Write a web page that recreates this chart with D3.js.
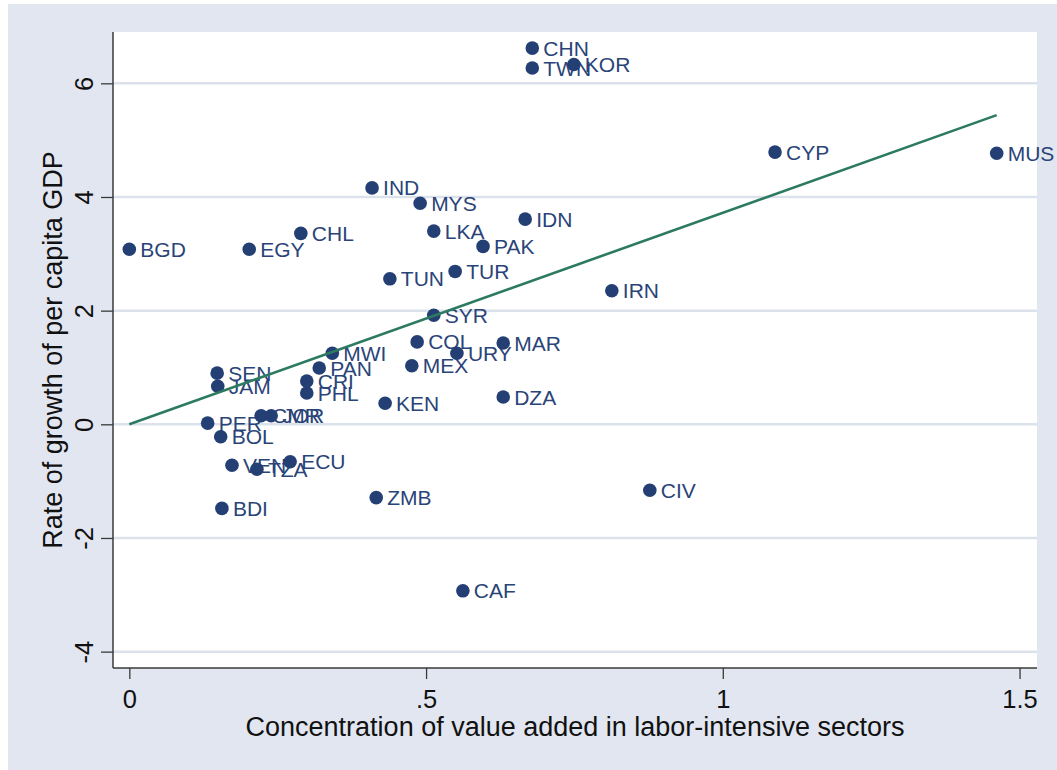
<!DOCTYPE html>
<html>
<head>
<meta charset="utf-8">
<script src="https://cdn.jsdelivr.net/npm/d3@7/dist/d3.min.js"></script>
<style>
html, body { margin: 0; padding: 0; background: #ffffff; }
svg { display: block; }
text { font-family: "Liberation Sans", Arial, Helvetica, sans-serif; }
</style>
</head>
<body>
<svg id="chart" width="1057" height="770"></svg>
<script>
// ---- data ----
const countries = ["CHN","TWN","KOR","CYP","MUS","IND","MYS","IDN","LKA","CHL","PAK","BGD","EGY","TUR","TUN","IRN","SYR","COL","MAR","URY","MWI","MEX","PAN","SEN","JAM","CRI","PHL","KEN","DZA","CMR","JOR","PER","BOL","VEN","TZA","ECU","BDI","ZMB","CIV","CAF"];
const concentration = [0.679,0.679,0.749,1.088,1.4615,0.409,0.490,0.667,0.513,0.289,0.596,0.000,0.202,0.549,0.439,0.813,0.513,0.485,0.630,0.552,0.342,0.476,0.320,0.148,0.149,0.299,0.299,0.431,0.630,0.222,0.239,0.132,0.154,0.173,0.215,0.271,0.156,0.416,0.877,0.562];
const growth = [6.62,6.27,6.33,4.79,4.77,4.16,3.89,3.61,3.40,3.36,3.13,3.08,3.08,2.69,2.56,2.35,1.92,1.45,1.43,1.25,1.25,1.03,0.99,0.90,0.67,0.76,0.55,0.37,0.48,0.15,0.15,0.02,-0.22,-0.72,-0.79,-0.66,-1.48,-1.29,-1.16,-2.93];
const fitX = [0.0, 1.4615];
const fitY = [0.0, 5.44];
const xTicks = [0, 0.5, 1, 1.5];
const xTickLabels = ["0", ".5", "1", "1.5"];
const yTicks = [-4, -2, 0, 2, 4, 6];
const yTickLabels = ["-4", "-2", "0", "2", "4", "6"];
const xTitle = "Concentration of value added in labor-intensive sectors";
const yTitle = "Rate of growth of per capita GDP";

// ---- layout ----
const W = 1057, H = 770;
const plot = { left: 113, right: 1037, top: 32, bottom: 668 };
const svg = d3.select("#chart");

const x = d3.scaleLinear().domain([-0.0275, 1.5294]).range([plot.left, plot.right]);
const y = d3.scaleLinear().domain([-4.288, 6.903]).range([plot.bottom, plot.top]);

const bg = "#E1E6F0";
const gridColor = "#DCE2EC";
const navy = "#243F74";
const green = "#2C7A60";

// outer background
svg.append("rect").attr("x", 8).attr("y", 4).attr("width", W - 8).attr("height", H - 4).attr("fill", bg);
// plot region
svg.append("rect").attr("x", plot.left).attr("y", plot.top)
  .attr("width", plot.right - plot.left).attr("height", plot.bottom - plot.top).attr("fill", "#ffffff");

// gridlines
svg.append("g").selectAll("line").data(yTicks).join("line")
  .attr("x1", plot.left).attr("x2", plot.right)
  .attr("y1", d => y(d)).attr("y2", d => y(d))
  .attr("stroke", gridColor).attr("stroke-width", 2.5);

// axes
const xAxis = d3.axisBottom(x).tickValues(xTicks).tickSize(11).tickPadding(0)
  .tickFormat((d, i) => xTickLabels[i]);
const gx = svg.append("g").attr("transform", `translate(0,${plot.bottom})`).call(xAxis);
gx.select(".domain").attr("d", `M${plot.left},0H${plot.right}`).attr("stroke", "#3a3a3a").attr("stroke-width", 1.5);
gx.selectAll(".tick line").attr("stroke", "#3a3a3a").attr("stroke-width", 1.3);
gx.selectAll(".tick text").attr("font-size", 25.5).attr("fill", "#111")
  .attr("y", 40).attr("dy", 0).attr("font-family", "Liberation Sans, Arial, sans-serif");

const yAxis = d3.axisLeft(y).tickValues(yTicks).tickSize(12).tickPadding(0)
  .tickFormat((d, i) => yTickLabels[i]);
const gy = svg.append("g").attr("transform", `translate(${plot.left},0)`).call(yAxis);
gy.select(".domain").attr("d", `M0,${plot.top}V${plot.bottom}`).attr("stroke", "#3a3a3a").attr("stroke-width", 1.5);
gy.selectAll(".tick line").attr("stroke", "#3a3a3a").attr("stroke-width", 1.3);
gy.selectAll(".tick text")
  .attr("font-size", 25.5).attr("fill", "#111")
  .attr("x", 0).attr("y", 0).attr("dy", 0)
  .attr("text-anchor", "middle")
  .attr("font-family", "Liberation Sans, Arial, sans-serif")
  .attr("transform", "translate(-20,0) rotate(-90)");

// axis titles
svg.append("text").attr("x", (plot.left + plot.right) / 2).attr("y", 736)
  .attr("text-anchor", "middle").attr("font-size", 27).attr("fill", "#111").text(xTitle);
svg.append("text").attr("transform", `translate(62,${(plot.top + plot.bottom) / 2}) rotate(-90)`)
  .attr("text-anchor", "middle").attr("font-size", 27).attr("fill", "#111").text(yTitle);

// points
const pts = countries.map((c, i) => ({ c, x: concentration[i], y: growth[i] }));

// labels
svg.append("g").selectAll("text").data(pts).join("text")
  .attr("x", d => x(d.x) + 11).attr("y", d => y(d.y)).attr("dy", "0.36em")
  .attr("font-size", 21).attr("fill", "#2A4478").text(d => d.c);

// markers
svg.append("g").selectAll("circle").data(pts).join("circle")
  .attr("cx", d => x(d.x)).attr("cy", d => y(d.y)).attr("r", 6.8)
  .attr("fill", navy);

// fitted line
const line = d3.line().x(d => x(d[0])).y(d => y(d[1]));
svg.append("path").datum(fitX.map((v, i) => [v, fitY[i]]))
  .attr("d", line).attr("fill", "none").attr("stroke", green).attr("stroke-width", 2.6);
</script>
</body>
</html>
